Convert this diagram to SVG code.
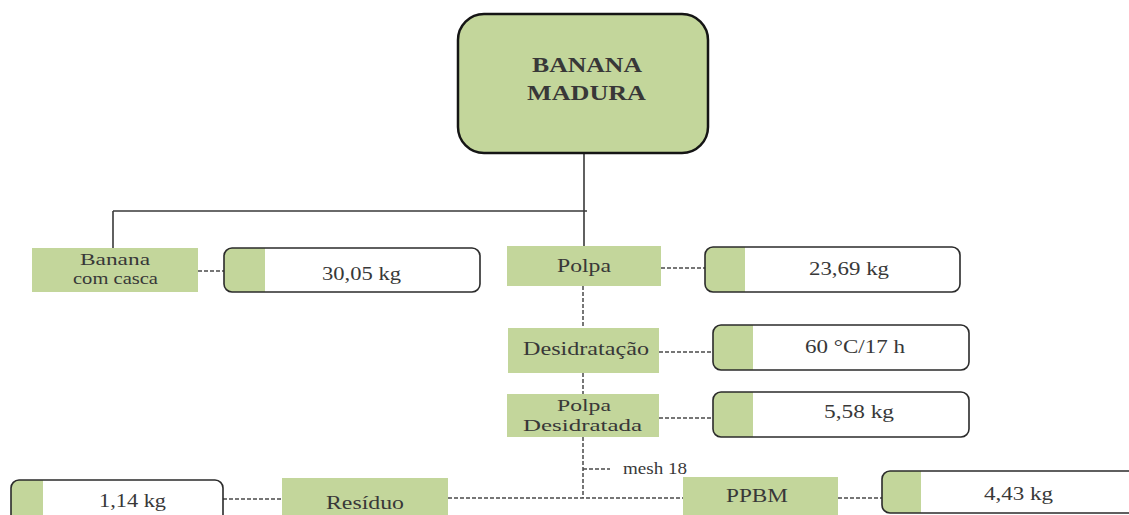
<svg xmlns="http://www.w3.org/2000/svg" width="1129" height="515" viewBox="0 0 1129 515">
<style>
.g{fill:#c3d69b}
text{font-family:'Liberation Serif','Times New Roman','DejaVu Serif',serif;fill:#383838}
.t{font-size:19px}
.t2{font-size:17px}
.tb{font-size:21px;font-weight:bold}
.vb{fill:none;stroke:#2b2b2b;stroke-width:1.6}
.sol{fill:none;stroke:#3a3a3a;stroke-width:1.6}
.dash{fill:none;stroke:#4a4a4a;stroke-width:1.5;stroke-dasharray:4 2}
</style>
<rect width="1129" height="515" fill="#ffffff"/>
<g id="connectors">
<path class="sol" d="M584 153V246M113 211H587M113 211V248"/>
<path class="dash" d="M198 271H224M661 268H705M583 286V328M659 352H713M583 373V394M659 418H713M583 437V498M583 469H610M223 499H282M448 498H683M838 498H882"/>
</g>
<g id="banana-madura">
<rect x="458" y="14" width="250" height="139" rx="26" class="g" stroke="#151515" stroke-width="2.5"/>
<text class="tb" x="532" y="72" textLength="110" lengthAdjust="spacingAndGlyphs">BANANA</text>
<text class="tb" x="527" y="100" textLength="119" lengthAdjust="spacingAndGlyphs">MADURA</text>
</g>
<g id="banana-com-casca">
<rect x="32" y="248" width="166" height="44" class="g"/>
<text class="t2" x="80" y="265" textLength="70" lengthAdjust="spacingAndGlyphs">Banana</text>
<text class="t2" x="73" y="284" textLength="85" lengthAdjust="spacingAndGlyphs">com casca</text>
</g>
<g id="v-30">
<path class="g" d="M232 248H265V292H232A8 8 0 0 1 224 284V256A8 8 0 0 1 232 248Z"/>
<rect x="224" y="248" width="256" height="44" rx="8" class="vb"/>
<text class="t" x="322" y="280" textLength="79" lengthAdjust="spacingAndGlyphs">30,05 kg</text>
</g>
<g id="polpa">
<rect x="507" y="246" width="154" height="40" class="g"/>
<text class="t" x="557" y="272" textLength="54" lengthAdjust="spacingAndGlyphs">Polpa</text>
</g>
<g id="v-23">
<path class="g" d="M713 247H745V292H713A8 8 0 0 1 705 284V255A8 8 0 0 1 713 247Z"/>
<rect x="705" y="247" width="255" height="45" rx="8" class="vb"/>
<text class="t" x="809" y="275" textLength="80" lengthAdjust="spacingAndGlyphs">23,69 kg</text>
</g>
<g id="desidratacao">
<rect x="508" y="328" width="151" height="45" class="g"/>
<text class="t" x="523" y="355" textLength="126" lengthAdjust="spacingAndGlyphs">Desidratação</text>
</g>
<g id="v-60">
<path class="g" d="M721 325H753V370H721A8 8 0 0 1 713 362V333A8 8 0 0 1 721 325Z"/>
<rect x="713" y="325" width="256" height="45" rx="8" class="vb"/>
<text class="t" x="805" y="353" textLength="100" lengthAdjust="spacingAndGlyphs">60 °C/17 h</text>
</g>
<g id="polpa-desidratada">
<rect x="507" y="394" width="152" height="43" class="g"/>
<text class="t2" x="557" y="411" textLength="54" lengthAdjust="spacingAndGlyphs">Polpa</text>
<text class="t2" x="523" y="431" textLength="119" lengthAdjust="spacingAndGlyphs">Desidratada</text>
</g>
<g id="v-5">
<path class="g" d="M721 392H753V437H721A8 8 0 0 1 713 429V400A8 8 0 0 1 721 392Z"/>
<rect x="713" y="392" width="256" height="45" rx="8" class="vb"/>
<text class="t" x="824" y="418" textLength="70" lengthAdjust="spacingAndGlyphs">5,58 kg</text>
</g>
<g id="mesh">
<text x="623" y="474" style="font-size:16px" textLength="64" lengthAdjust="spacingAndGlyphs">mesh 18</text>
</g>
<g id="v-1">
<path class="g" d="M19 480H43V525H19A8 8 0 0 1 11 517V488A8 8 0 0 1 19 480Z"/>
<rect x="11" y="480" width="212" height="45" rx="8" class="vb"/>
<text class="t" x="99" y="507" textLength="67" lengthAdjust="spacingAndGlyphs">1,14 kg</text>
</g>
<g id="residuo">
<rect x="282" y="478" width="166" height="45" class="g"/>
<text class="t" x="326" y="509" textLength="78" lengthAdjust="spacingAndGlyphs">Resíduo</text>
</g>
<g id="ppbm">
<rect x="683" y="477" width="155" height="45" class="g"/>
<text class="t" x="726" y="502" textLength="62" lengthAdjust="spacingAndGlyphs">PPBM</text>
</g>
<g id="v-4">
<path class="g" d="M890 471H921V513H890A8 8 0 0 1 882 505V479A8 8 0 0 1 890 471Z"/>
<rect x="882" y="471" width="260" height="42" rx="8" class="vb"/>
<text class="t" x="984" y="500" textLength="69" lengthAdjust="spacingAndGlyphs">4,43 kg</text>
</g>
</svg>
